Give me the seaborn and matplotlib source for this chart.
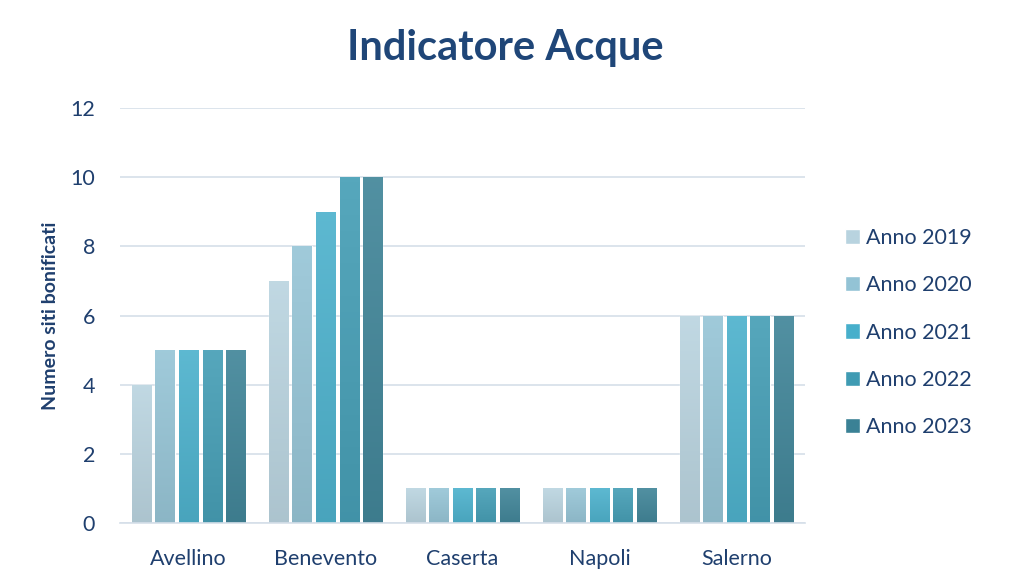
import numpy as np
import pandas as pd
import seaborn as sns
import matplotlib.pyplot as plt
import matplotlib.colors as mcolors

province = ['Avellino', 'Benevento', 'Caserta', 'Napoli', 'Salerno']
anni = ['Anno 2019', 'Anno 2020', 'Anno 2021', 'Anno 2022', 'Anno 2023']
v2019 = [4, 7, 1, 1, 6]
v2020 = [5, 8, 1, 1, 6]
v2021 = [5, 9, 1, 1, 6]
v2022 = [5, 10, 1, 1, 6]
v2023 = [5, 10, 1, 1, 6]
colori = ['#b8d3df', '#93c3d5', '#47afcb', '#3f9bb3', '#3a8195']

df = pd.DataFrame({'Provincia': province * 5,
                   'Anno': [a for a in anni for _ in province],
                   'Valore': v2019 + v2020 + v2021 + v2022 + v2023})

sns.set_style('white')
plt.rcParams['font.family'] = ['Lato', 'DejaVu Sans']
testo = '#1f3f6e'

fig = plt.figure(figsize=(10.1, 5.87), dpi=100)
ax = fig.add_axes([0.119, 0.109, 0.678, 0.707])
sns.barplot(data=df, x='Provincia', y='Valore', hue='Anno', palette=colori,
            width=0.86, gap=0.18, ax=ax, saturation=1)

# leggero gradiente verticale sulle barre
for p in ax.patches:
    if p.get_height() <= 0:
        continue
    c = np.array(mcolors.to_rgb(p.get_facecolor()))
    top = c + (1 - c) * 0.12
    bot = c * 0.88 + np.array([0.5, 0.5, 0.5]) * 0.08
    grad = np.linspace(0, 1, 64)[:, None, None]
    img = top * (1 - grad) + bot * grad
    x0, y0 = p.get_x(), p.get_y()
    im = ax.imshow(img, extent=[x0, x0 + p.get_width(), y0, y0 + p.get_height()],
                   aspect='auto', origin='upper', zorder=p.get_zorder())
    im.set_clip_path(p)

ax.set_xlim(-0.5, 4.5)
ax.set_ylim(0, 12)
ax.set_yticks(range(0, 13, 2))
ax.yaxis.grid(True, color='#d5dfe9', linewidth=1.2)
ax.set_axisbelow(True)
for s in ['top', 'right', 'left']:
    ax.spines[s].set_visible(False)
ax.spines['bottom'].set_color('#d5dfe9')
ax.spines['bottom'].set_linewidth(1.2)
ax.tick_params(axis='both', length=0, labelsize=15.5, colors=testo)
ax.tick_params(axis='x', pad=19)
ax.tick_params(axis='y', pad=18)
ax.set_xlabel(None)
ax.set_ylabel('Numero siti bonificati', fontsize=14, fontweight='bold', color=testo, labelpad=8)

fig.suptitle('Indicatore Acque', x=0.5, y=0.95, fontsize=30, fontweight='bold', color='#1f4678')

leg = ax.legend(loc='center left', bbox_to_anchor=(1.03, 0.459), frameon=False,
                fontsize=15.5, handlelength=0.7, handleheight=0.7, handletextpad=0.3,
                labelspacing=1.27, labelcolor=testo)
plt.savefig('out.png', dpi=100)
